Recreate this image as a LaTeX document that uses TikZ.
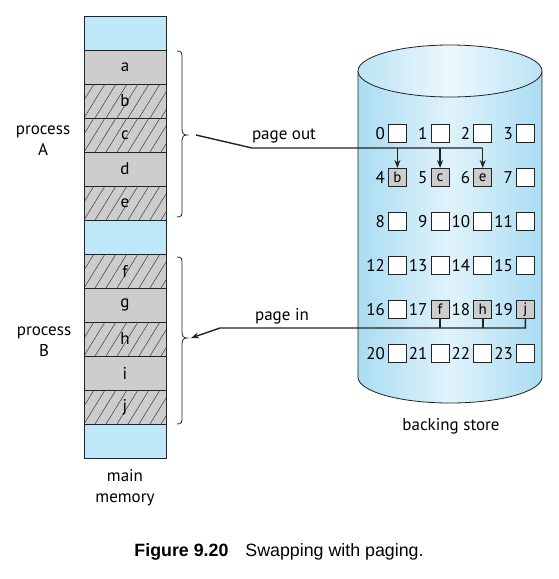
\documentclass[tikz,border=0pt]{standalone}
\usepackage{fontspec}
\setmainfont{PT Sans}
\newfontfamily\capfont{Liberation Sans}
\usetikzlibrary{arrows.meta}
\definecolor{memblue}{RGB}{190,232,247}
\definecolor{cellgray}{RGB}{205,205,205}
\definecolor{cylside}{RGB}{170,220,242}
\definecolor{cylmid}{RGB}{224,243,251}
\definecolor{linegray}{RGB}{35,35,35}
\begin{document}
\begin{tikzpicture}[x=1pt,y=-1pt,
  font=\fontsize{17}{21}\selectfont,
  cell/.style={draw=linegray, line width=0.9pt, fill=cellgray, minimum width=82pt, minimum height=34pt, inner sep=0pt, outer sep=0pt},
  free/.style={cell, fill=memblue},
  hatched/.style={cell, path picture={
      \foreach \i in {-3,...,8}
        \draw[hatchline] ([xshift=\i*11pt]path picture bounding box.south west) -- ++(21pt,34pt);}},
  hatchline/.style={draw=linegray!85, line width=0.55pt},
  slot/.style={draw=linegray, line width=0.8pt, fill=white, minimum size=18pt, inner sep=0pt, anchor=north west},
  used/.style={slot, fill=cellgray},
  num/.style={anchor=east, inner sep=0pt},
  conn/.style={draw=linegray, line width=1.4pt},
  tip/.style={-{Stealth[length=8pt,width=6pt]}},
  brace/.style={draw=linegray, line width=0.8pt},
  lbl/.style={align=center, inner sep=0pt}
]
\useasboundingbox (0,0) rectangle (559,579);

% main memory
\node[free]    (m0)  at (125,33)  {};
\node[cell]    (ma)  at (125,67)  {a};
\node[hatched] (mb)  at (125,101) {b};
\node[hatched] (mc)  at (125,135) {c};
\node[cell]    (md)  at (125,169) {d};
\node[hatched] (me)  at (125,203) {e};
\node[free]    (m6)  at (125,237) {};
\node[hatched] (mf)  at (125,271) {f};
\node[cell]    (mg)  at (125,305) {g};
\node[hatched] (mh)  at (125,339) {h};
\node[cell]    (mi)  at (125,373) {i};
\node[hatched] (mj)  at (125,407) {j};
\node[free]    (m12) at (125,441) {};

% braces
\draw[brace] (177,51) .. controls (182,51) and (182,53) .. (182,58) -- (182,128)
  .. controls (182,133) and (183,135) .. (187,135)
  .. controls (183,135) and (182,137) .. (182,142) -- (182,210)
  .. controls (182,215) and (182,217) .. (177,217);
\draw[brace] (177,257) .. controls (182,257) and (182,259) .. (182,264) -- (182,331)
  .. controls (182,336) and (183,338) .. (187,338)
  .. controls (183,338) and (182,340) .. (182,345) -- (182,417)
  .. controls (182,422) and (182,424) .. (177,424);

% labels
\node[lbl] (procA) at (43,141) {process\\A};
\node[lbl] (procB) at (44,342) {process\\B};
\node[lbl] (mainmem) at (125,488) {main\\memory};
\node[lbl] (bstore) at (451,426) {backing store};

% cylinder
\shade[left color=cylside, right color=cylside, middle color=cylmid]
  (358,71) -- (358,377) arc[start angle=180, end angle=0, x radius=92, y radius=26]
  -- (542,71) arc[start angle=0, end angle=180, x radius=92, y radius=26] -- cycle;
\draw[linegray, line width=0.8pt]
  (358,71) -- (358,377) arc[start angle=180, end angle=0, x radius=92, y radius=26]
  -- (542,71);
\shade[left color=cylside!80!white, right color=cylside!80!white, middle color=cylmid!60!white]
  (450,71) ellipse [x radius=92, y radius=26];
\draw[linegray, line width=0.8pt] (450,71) ellipse [x radius=92, y radius=26];

% slots
\foreach \r in {0,...,5} {
  \foreach \c in {0,...,3} {
    \pgfmathtruncatemacro{\k}{4*\r+\c}
    \pgfmathsetmacro{\sx}{388+42.67*\c}
    \pgfmathsetmacro{\sy}{124+44*\r}
    \node[slot] (s\k) at (\sx,\sy) {};
    \node[num] (n\k) at ([xshift=-3pt]s\k.west) {\k};
  }
}
\node[used] (s4b)  at (s4.north west)  {\fontsize{15}{15}\selectfont b};
\node[used] (s5c)  at (s5.north west)  {\fontsize{15}{15}\selectfont c};
\node[used] (s6e)  at (s6.north west)  {\fontsize{15}{15}\selectfont e};
\node[used] (s17f) at (s17.north west) {\fontsize{15}{15}\selectfont f};
\node[used] (s18h) at (s18.north west) {\fontsize{15}{15}\selectfont h};
\node[used] (s19j) at (s19.north west) {\fontsize{15}{15}\selectfont j};

% page out
\coordinate (outstart) at (196,135);
\coordinate (outbend) at (252,148);
\node[lbl] (pageout) at (284,136) {page out};
\draw[conn] (outstart) -- (outbend) -- (outbend -| s6e.north);
\draw[conn,tip] (outbend -| s4b.north) -- (s4b.north);
\draw[conn,tip] (outbend -| s5c.north) -- (s5c.north);
\draw[conn,tip] (outbend -| s6e.north) -- (s6e.north);

% page in
\coordinate (inbend) at (220,328);
\coordinate (inend) at (191,338);
\node[lbl] (pagein) at (282,316) {page in};
\draw[draw=linegray, line width=2.4pt] (s17f.south) -- (s17f.south |- inbend);
\draw[draw=linegray, line width=2.4pt] (s18h.south) -- (s18h.south |- inbend);
\draw[conn,tip] (s19j.south) -- (s19j.south |- inbend) -- (inbend) -- (inend);

% caption
\node[inner sep=0pt] (caption) at (279,552)
  {\capfont\fontsize{17.8}{20}\selectfont\textbf{Figure 9.20}\hspace{17pt}Swapping with paging.};
\end{tikzpicture}
\end{document}
